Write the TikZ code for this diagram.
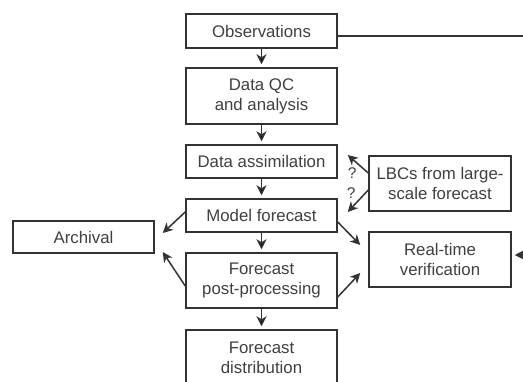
\documentclass[tikz,border=0pt]{standalone}
\usepackage{fontspec}
\setmainfont{Liberation Sans}
\usetikzlibrary{positioning, arrows.meta}

\tikzset{
  box/.style={draw=black!80, line width=1.5pt, minimum width=151pt, minimum height=34pt,
    inner sep=0pt, align=center, text=black!75, font=\fontsize{16.8}{20}\selectfont},
  tallbox/.style={box, minimum height=56pt},
  sidebox/.style={box, minimum width=142pt, minimum height=55pt},
  arr/.style={-{Stealth[length=10pt,width=10pt,inset=3pt]}, draw=black!80, line width=1.5pt},
  qmark/.style={text=black!75, font=\fontsize{15.5}{15.5}\selectfont, inner sep=0pt}
}

\begin{document}
\begin{tikzpicture}[x=1pt, y=1pt, on grid]
   \fill[white] (0,0) rectangle (523,-381);
   \useasboundingbox (0,0) rectangle (523,-381);
   \node[box] (obs) at (261.5,-31) {Observations};
   \node[tallbox] (qc) [below=65pt of obs] {Data QC\\and analysis};
   \node[box, minimum height=33pt] (da) [below=65.5pt of qc] {Data assimilation};
   \node[box, minimum height=33pt] (mf) [below=54pt of da] {Model forecast};
   \node[tallbox, minimum height=55pt] (pp) [below=65pt of mf] {Forecast\\post-processing};
   \node[tallbox] (fd) [below=77.5pt of pp] {Forecast\\distribution};
   \node[box, minimum width=141pt, minimum height=32pt] (arc) [below left=21.5pt and 178pt of mf] {Archival};
   \node[sidebox] (lbc) [below right=22pt and 178.5pt of da] {LBCs from large-\\scale forecast};
   \node[sidebox] (ver) [below=76pt of lbc] {Real-time\\verification};
   \coordinate (obsend) at (523,-36);
   \coordinate (verend) at (523,-255);

    \path[arr, shorten >=3pt]
    (obs) edge (qc)
    (qc)  edge (da)
    (da)  edge (mf)
    (mf)  edge (pp)
    (pp)  edge (fd);

   \draw[arr] ([yshift=3.5pt]mf.west) -- ([xshift=8pt,yshift=4pt]arc.east);
   \draw[arr] ([yshift=-5.5pt]pp.west) -- ([xshift=8pt,yshift=-15pt]arc.east);
   \draw[arr] ([yshift=-6.5pt]mf.east) -- ([xshift=-8pt,yshift=14.5pt]ver.west);
   \draw[arr] ([yshift=-16.5pt]pp.east) -- ([xshift=-8pt,yshift=-13.5pt]ver.west);
   \draw[arr] ([yshift=10.5pt]lbc.west) -- ([xshift=10pt,yshift=6.5pt]da.east)
      node[qmark, at start, xshift=-16pt] {?};
   \draw[arr] ([yshift=-6.5pt]lbc.west) -- ([xshift=10pt,yshift=3.5pt]mf.east)
      node[qmark, at start, xshift=-17pt, yshift=-3pt] {?};

   \draw[draw=black!80, line width=1.5pt] (obsend -| obs.east) -- (obsend);
   \draw[arr, shorten >=3pt] (verend) -- (verend -| ver.east);
\end{tikzpicture}
\end{document}
